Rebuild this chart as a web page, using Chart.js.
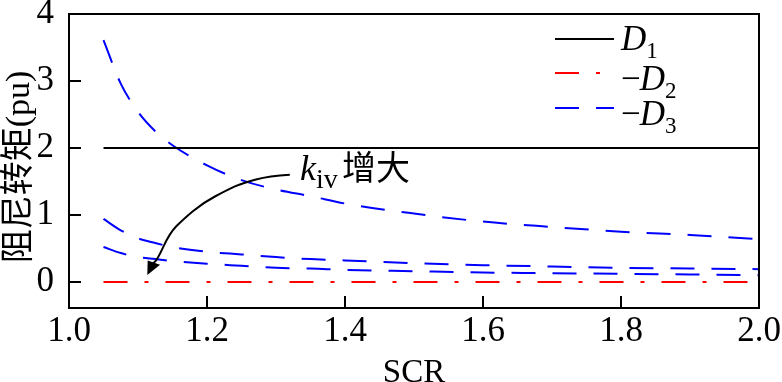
<!DOCTYPE html>
<html>
<head>
<meta charset="utf-8">
<script src="https://cdn.jsdelivr.net/npm/chart.js@4.4.1/dist/chart.umd.min.js"></script>
<style>
  html, body { margin: 0; padding: 0; background: #fff; }
  canvas { display: block; }
</style>
</head>
<body>
<canvas id="chart" width="782" height="382"></canvas>
<script>
/* Damping torque vs SCR, three k_iv cases for -D3 */

const SCR = [1.05, 1.075, 1.1, 1.125, 1.15, 1.2, 1.25, 1.3, 1.35, 1.4, 1.5, 1.6, 1.7, 1.8, 1.9, 2.0];
const MINUS_D3_A = [3.61, 2.96, 2.54, 2.25, 2.04, 1.74, 1.52, 1.38, 1.28, 1.17, 1.02, 0.90, 0.82, 0.75, 0.70, 0.64];
const MINUS_D3_B = [0.94, 0.77, 0.65, 0.58, 0.52, 0.45, 0.41, 0.37, 0.34, 0.32, 0.28, 0.25, 0.23, 0.21, 0.20, 0.19];
const MINUS_D3_C = [0.52, 0.43, 0.37, 0.34, 0.31, 0.27, 0.24, 0.21, 0.20, 0.18, 0.16, 0.14, 0.13, 0.12, 0.11, 0.10];

const FLAT_X = [1.05, 2.0];
const D1 = [2, 2];
const MINUS_D2 = [0, 0];

const X_TICKS = [1.0, 1.2, 1.4, 1.6, 1.8, 2.0];
const Y_TICKS = [0, 1, 2, 3, 4];
const Y_TITLE = "阻尼转矩(pu)";

/* "k_iv 增大" arrow, in data units */
const ARROW_X = [1.320, 1.290, 1.252, 1.229, 1.194, 1.165, 1.146, 1.128, 1.121];
const ARROW_Y = [1.60, 1.58, 1.48, 1.37, 1.18, 0.93, 0.73, 0.33, 0.27];
const HEAD_X = [1.1135, 1.114, 1.132];
const HEAD_Y = [0.104, 0.318, 0.254];

const SERIF = '"Liberation Serif", "Times New Roman", serif';
const CJK = '"Liberation Serif", "Noto Sans CJK SC", sans-serif';
const BLUE = "#0000ff";
const RED = "#ff0000";
const DASH = [24, 17];
const DASH_DOT = [24, 17, 4, 17];

const pairs = (xs, ys) => xs.map((x, i) => ({ x, y: ys[i] }));

function line(data, color, dash) {
  return {
    data,
    borderColor: color,
    borderWidth: 2,
    borderDash: dash,
    pointRadius: 0,
    cubicInterpolationMode: "monotone",
    fill: false,
  };
}

/* box round the plot plus short ticks pointing inward */
const frame = {
  id: "frame",
  afterDatasetsDraw(chart) {
    const { ctx, chartArea: a, scales } = chart;
    ctx.save();
    ctx.strokeStyle = "#000";
    ctx.lineWidth = 2;
    ctx.setLineDash([]);
    ctx.beginPath();
    for (const v of Y_TICKS) {
      const y = Math.round(scales.y.getPixelForValue(v));
      ctx.moveTo(a.left, y);
      ctx.lineTo(a.left + 12, y);
    }
    for (const v of X_TICKS) {
      const x = Math.round(scales.x.getPixelForValue(v));
      ctx.moveTo(x, a.bottom);
      ctx.lineTo(x, a.bottom - 12);
    }
    ctx.stroke();
    ctx.strokeRect(a.left, a.top, a.right - a.left, a.bottom - a.top);
    ctx.restore();
  },
};

/* legend with italic D and subscripts, the y title and the k_iv note */
const notes = {
  id: "notes",
  afterDraw(chart) {
    const { ctx, scales } = chart;
    ctx.save();
    ctx.lineWidth = 2;
    ctx.textBaseline = "alphabetic";
    ctx.fillStyle = "#000";

    const rows = [
      { y: 39, color: "#000", dash: [], minus: false, sub: "1", base: 50 },
      { y: 73, color: RED, dash: DASH_DOT, minus: true, sub: "2", base: 90 },
      { y: 108, color: BLUE, dash: DASH, minus: true, sub: "3", base: 125 },
    ];
    for (const r of rows) {
      ctx.strokeStyle = r.color;
      ctx.setLineDash(r.dash);
      ctx.beginPath();
      ctx.moveTo(555, r.y);
      ctx.lineTo(614, r.y);
      ctx.stroke();
      let x = 621;
      if (r.minus) {
        ctx.font = `35px ${SERIF}`;
        ctx.fillText("\u2212", x, r.base);
        x += ctx.measureText("\u2212").width - 1;
      }
      ctx.font = `italic 35px ${SERIF}`;
      ctx.fillText("D", x, r.base);
      x += ctx.measureText("D").width;
      ctx.font = `23px ${SERIF}`;
      ctx.fillText(r.sub, x, r.base + 8);
    }

    // y title, rotated
    ctx.save();
    ctx.translate(20, 167);
    ctx.rotate(-Math.PI / 2);
    ctx.textAlign = "center";
    ctx.textBaseline = "middle";
    ctx.font = `34px ${CJK}`;
    ctx.fillText(Y_TITLE, 0, 0);
    ctx.restore();

    // curved arrow
    ctx.setLineDash([]);
    ctx.strokeStyle = "#000";
    const p = ARROW_X.map((v, i) => [scales.x.getPixelForValue(v), scales.y.getPixelForValue(ARROW_Y[i])]);
    ctx.beginPath();
    ctx.moveTo(p[0][0], p[0][1]);
    for (let i = 1; i < p.length - 1; i++) {
      const mx = (p[i][0] + p[i + 1][0]) / 2;
      const my = (p[i][1] + p[i + 1][1]) / 2;
      ctx.quadraticCurveTo(p[i][0], p[i][1], mx, my);
    }
    ctx.lineTo(p[p.length - 1][0], p[p.length - 1][1]);
    ctx.stroke();
    ctx.beginPath();
    HEAD_X.forEach((v, i) => {
      const hx = scales.x.getPixelForValue(v);
      const hy = scales.y.getPixelForValue(HEAD_Y[i]);
      if (i === 0) ctx.moveTo(hx, hy); else ctx.lineTo(hx, hy);
    });
    ctx.closePath();
    ctx.fill();

    ctx.font = `italic 36px ${SERIF}`;
    ctx.fillText("k", 300, 180);
    ctx.font = `28px ${SERIF}`;
    ctx.fillText("iv", 316, 188);
    ctx.font = `34px "Noto Sans CJK SC", sans-serif`;
    ctx.fillText("增大", 342, 180);
    ctx.restore();
  },
};

new Chart(document.getElementById("chart"), {
  type: "line",
  data: {
    datasets: [
      line(pairs(FLAT_X, D1), "#000", []),
      line(pairs(FLAT_X, MINUS_D2), RED, DASH_DOT),
      line(pairs(SCR, MINUS_D3_A), BLUE, DASH),
      line(pairs(SCR, MINUS_D3_B), BLUE, DASH),
      line(pairs(SCR, MINUS_D3_C), BLUE, DASH),
    ],
  },
  options: {
    responsive: false,
    animation: false,
    layout: { padding: { top: 14, right: 23, left: 0, bottom: 0 } },
    plugins: { legend: { display: false }, tooltip: { enabled: false } },
    scales: {
      x: {
        type: "linear",
        min: 1.0,
        max: 2.0,
        afterBuildTicks: (s) => { s.ticks = X_TICKS.map((value) => ({ value })); },
        afterFit: (s) => { s.height = 74; s.paddingLeft = 0; s.paddingRight = 0; },
        grid: { display: false },
        border: { display: false },
        ticks: {
          color: "#000",
          padding: -5,
          maxRotation: 0,
          font: { family: SERIF, size: 35 },
          callback: (v) => Number(v).toFixed(1),
        },
        title: {
          display: true,
          text: "SCR",
          color: "#000",
          font: { family: SERIF, size: 33, lineHeight: 0.875 },
          padding: { top: 0, bottom: -6 },
        },
      },
      y: {
        min: -0.39,
        max: 4,
        afterBuildTicks: (s) => { s.ticks = Y_TICKS.map((value) => ({ value })); },
        afterFit: (s) => { s.width = 69; s.paddingTop = 0; s.paddingBottom = 0; },
        grid: { display: false },
        border: { display: false },
        ticks: {
          color: "#000",
          padding: 7,
          font: { family: SERIF, size: 35 },
          callback: (v) => String(v),
        },
      },
    },
  },
  plugins: [frame, notes],
});
</script>
</body>
</html>
